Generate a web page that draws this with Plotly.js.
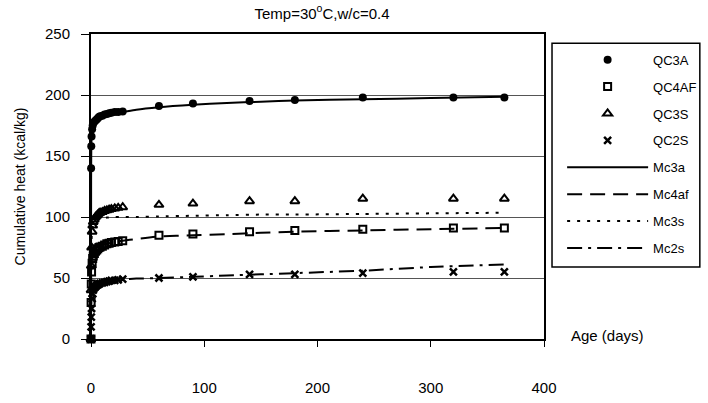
<!DOCTYPE html>
<html>
<head>
<meta charset="utf-8">
<script src="https://cdn.plot.ly/plotly-3.0.1.min.js"></script>
<style>html,body{margin:0;padding:0;background:#fff;}#chart{width:708px;height:403px;}</style>
</head>
<body>
<div id="chart"></div>
<script>
// Observed data: age (days)
const obsDays = [0, 0.1, 0.25, 0.5, 1, 1.5, 2, 3, 4, 5, 6, 7, 8, 10, 12, 14, 16, 18, 21, 24, 28, 60, 90, 140, 180, 240, 320, 365];
const qc3a  = [0, 140, 158, 166, 172, 175, 177, 178, 179, 180, 181, 182, 182.5, 183, 184, 184.5, 185, 185.5, 186, 186, 186.5, 191, 193, 195, 196, 198, 198, 198];
const qc4af = [0, 30, 45, 55, 62, 66, 68, 70, 72, 73, 74, 75, 75.5, 76, 77, 78, 78.5, 79, 79.5, 80, 80.5, 85, 86, 88, 89, 90, 91, 91];
const qc3s  = [0, 40, 60, 75, 88, 93, 96, 98, 100, 101, 102, 103, 103.5, 104, 105, 105.5, 106, 106.5, 107, 107.5, 108, 110, 111, 113, 113, 115, 115, 115];
const qc2s  = [0, 10, 18, 25, 33, 37, 40, 42, 43, 44, 44.5, 45, 45.5, 46, 46.5, 47, 47.5, 48, 48, 48.5, 49, 50, 51, 53, 53, 54, 55, 55];

// Model curves
const modelDays = [0, 0.1, 0.25, 0.5, 1, 2, 3, 5, 7, 10, 14, 21, 28, 40, 60, 90, 120, 150, 180, 240, 300, 365];
const mc3a  = [0, 130, 155, 165, 171, 175, 177, 179, 180.5, 182, 183.5, 185, 186, 188, 190, 192, 193.5, 194.5, 195.5, 196.5, 197.5, 198.5];
const mc4af = [0, 40, 55, 62, 67, 71, 73, 75, 76, 77, 78, 79.5, 80.5, 82, 84, 85, 86, 87, 88, 89, 90, 91];
const mc3s  = [0, 50, 70, 82, 90, 94, 96, 97.5, 98.5, 99, 99.5, 100, 100, 100, 100.5, 101, 101.5, 102, 102, 102.5, 103, 103.5];
const mc2s  = [0, 20, 28, 34, 39, 42, 44, 45.5, 46.5, 47.5, 48, 48.5, 49, 49.5, 50, 51, 52, 53, 54, 56, 59, 61];

const xTicks = [0, 100, 200, 300, 400];
const yTicks = [0, 50, 100, 150, 200, 250];

const FONT = 'Liberation Sans, Arial, sans-serif';

function obs(name, y, symbol, size, lw) {
  return {x: obsDays, y: y, name: name, mode: 'markers', type: 'scatter', cliponaxis: false,
    legendgroup: name,
    marker: {symbol: symbol, size: size, color: '#000', line: {color: '#000', width: lw}}};
}
function model(name, y, dash) {
  return {x: modelDays, y: y, name: name, mode: 'lines', type: 'scatter', cliponaxis: false,
    legendgroup: name,
    line: {color: '#000', width: 2, dash: dash, shape: 'spline', smoothing: 0.6}};
}

const traces = [
  obs('QC3A', qc3a, 'circle', 8, 0),
  obs('QC4AF', qc4af, 'square-open', 7, 2),
  obs('QC3S', qc3s, 'triangle-up-open', 8, 2),
  obs('QC2S', qc2s, 'x-thin-open', 7, 2.5),
  model('Mc3a', mc3a, 'solid'),
  model('Mc4af', mc4af, '15px,8px'),
  model('Mc3s', mc3s, '3px,7px'),
  model('Mc2s', mc2s, '15px,6px,3px,6px')
];

const layout = {
  width: 708, height: 403,
  margin: {l: 91, r: 164, t: 34, b: 64, pad: 0, autoexpand: false},
  paper_bgcolor: '#fff', plot_bgcolor: '#fff',
  font: {family: FONT, color: '#000', size: 15},
  title: {text: 'Temp=30<sup>o</sup>C,w/c=0.4', x: 0.51, xref: 'paper', xanchor: 'center', y: 0.967, yref: 'container', yanchor: 'middle',
    font: {family: FONT, size: 15, color: '#000'}},
  xaxis: {range: [0, 400], tickvals: xTicks, ticktext: xTicks.map(String), showgrid: false, zeroline: false,
    showline: true, linecolor: '#000', linewidth: 2, mirror: true, ticks: 'outside', ticklen: 6, tickcolor: '#000',
    ticklabelstandoff: 28, tickfont: {family: FONT, size: 15, color: '#000'}, fixedrange: true},
  yaxis: {range: [0, 250], tickvals: yTicks, ticktext: yTicks.map(String), showgrid: true, gridcolor: '#555', gridwidth: 1,
    zeroline: false, showline: true, linecolor: '#000', linewidth: 2, mirror: true, ticks: 'outside', ticklen: 8, tickcolor: '#000',
    ticklabelstandoff: 8, tickfont: {family: FONT, size: 15, color: '#000'},
    title: {text: 'Cumulative heat (kcal/kg)', standoff: 16, font: {family: FONT, size: 14, color: '#000'}}, fixedrange: true},
  showlegend: true,
  legend: {x: 1.04, xanchor: 'left', y: 0.965, yanchor: 'top', bgcolor: 'rgba(0,0,0,0)', borderwidth: 0,
    itemwidth: 81, tracegroupgap: 7, font: {family: FONT, size: 13, color: '#000'}},
  shapes: [{type: 'rect', xref: 'paper', yref: 'paper', x0: 1.0177, x1: 1.344, y0: 0.236, y1: 0.970,
    line: {color: '#000', width: 1.5}, fillcolor: 'rgba(0,0,0,0)', layer: 'below'}],
  annotations: [{text: 'Age (days)', xref: 'paper', yref: 'paper', x: 1.141, y: 0.013, xanchor: 'center', yanchor: 'middle',
    showarrow: false, font: {family: FONT, size: 15, color: '#000'}}]
};

Plotly.newPlot('chart', traces, layout, {displayModeBar: false, staticPlot: true});
</script>
</body>
</html>
